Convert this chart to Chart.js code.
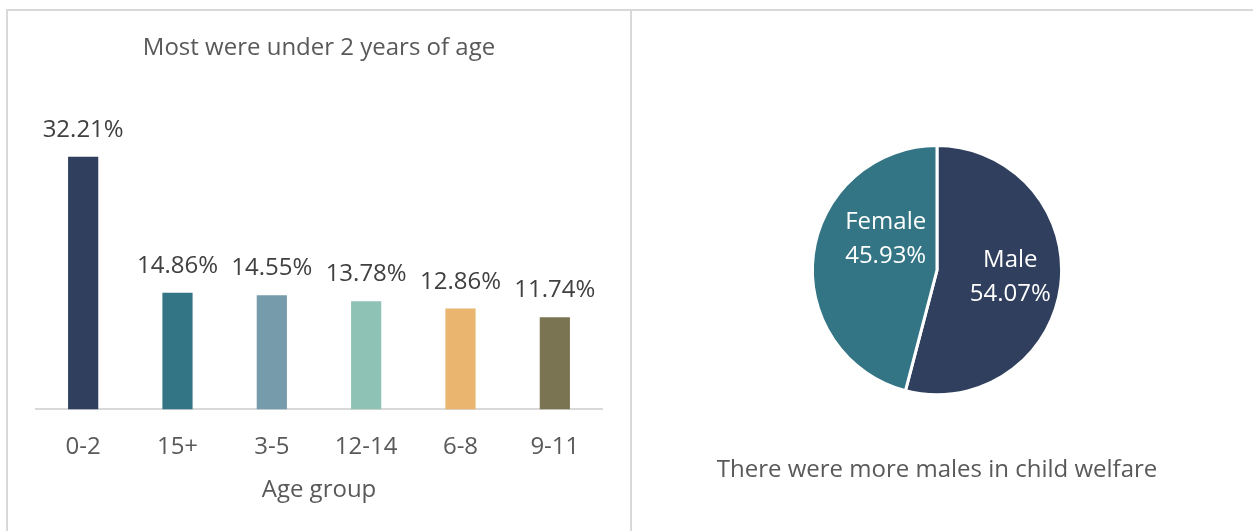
<!DOCTYPE html>
<html>
<head>
<meta charset="utf-8">
<script src="https://cdn.jsdelivr.net/npm/chart.js@4"></script>
<style>
  body { margin: 0; background: #fff; width: 1253px; height: 531px; overflow: hidden; position: relative; }
  canvas { position: absolute; }
  .line { position: absolute; background: #d9d9d9; }
</style>
</head>
<body>
<div class="line" style="left:6px; top:9px; width:1247px; height:2px;"></div>
<div class="line" style="left:6px; top:9px; width:2px; height:522px;"></div>
<div class="line" style="left:630px; top:9px; width:2px; height:522px;"></div>
<canvas id="ageChart" width="630" height="531" style="left:0; top:0;"></canvas>
<canvas id="sexChart" width="621" height="531" style="left:632px; top:0;"></canvas>
<script>
// data
const ageGroups = ["0-2", "15+", "3-5", "12-14", "6-8", "9-11"];
const agePct = [32.21, 14.86, 14.55, 13.78, 12.86, 11.74];
const ageColors = ["#2F3F5D", "#337585", "#769BAA", "#8EC2B5", "#EAB56E", "#7A7452"];

const sexLabels = ["Male", "Female"];
const sexPct = [54.07, 45.93];
const sexColors = ["#2F3F5D", "#337585"];

const FONT = "'Open Sans', Lato, sans-serif";
const GREY = "#595959";
const SIZE = 24;

Chart.defaults.font.family = FONT;
Chart.defaults.color = GREY;

// value labels above each bar
const barLabels = {
  id: "barLabels",
  afterDatasetsDraw(chart) {
    const ctx = chart.ctx;
    const meta = chart.getDatasetMeta(0);
    ctx.save();
    ctx.font = SIZE + "px " + FONT;
    ctx.fillStyle = "#404040";
    ctx.textAlign = "center";
    ctx.textBaseline = "alphabetic";
    meta.data.forEach((bar, i) => {
      ctx.fillText(agePct[i].toFixed(2) + "%", bar.x, bar.y - 20);
    });
    ctx.restore();
  }
};

// labels inside the slices, nudged like the original
const sliceLabels = {
  id: "sliceLabels",
  afterDatasetsDraw(chart) {
    const ctx = chart.ctx;
    const meta = chart.getDatasetMeta(0);
    const tweak = [{ a: -0.06, r: 0.59 }, { a: 0.445, r: 0.49 }];
    ctx.save();
    ctx.font = SIZE + "px " + FONT;
    ctx.fillStyle = "#ffffff";
    ctx.textAlign = "center";
    ctx.textBaseline = "alphabetic";
    meta.data.forEach((arc, i) => {
      const mid = (arc.startAngle + arc.endAngle) / 2 + tweak[i].a;
      const r = arc.outerRadius * tweak[i].r;
      const x = arc.x + Math.cos(mid) * r;
      const y = arc.y + Math.sin(mid) * r;
      ctx.fillText(sexLabels[i], x, y - 8);
      ctx.fillText(sexPct[i].toFixed(2) + "%", x, y + 26);
    });
    ctx.restore();
  }
};

new Chart(document.getElementById("ageChart"), {
  type: "bar",
  data: {
    labels: ageGroups,
    datasets: [{
      data: agePct,
      backgroundColor: ageColors,
      barPercentage: 0.32,
      categoryPercentage: 1
    }]
  },
  options: {
    responsive: false,
    animation: false,
    devicePixelRatio: 1,
    layout: { padding: { left: 36, right: 28, top: 0, bottom: 0 } },
    plugins: {
      legend: { display: false },
      tooltip: { enabled: false },
      title: {
        display: true,
        text: "Most were under 2 years of age",
        color: GREY,
        font: { size: SIZE, weight: "normal" },
        padding: { top: 34, bottom: 72 }
      }
    },
    scales: {
      x: {
        grid: { display: true, drawOnChartArea: false, color: "rgba(0,0,0,0)", tickLength: 23 },
        border: { display: true, color: "#d9d9d9", width: 2 },
        ticks: { color: GREY, font: { size: SIZE }, padding: 0 },
        title: {
          display: true,
          text: "Age group",
          color: GREY,
          font: { size: SIZE },
          padding: { top: 15, bottom: 26 }
        }
      },
      y: { display: false, min: 0, max: 35 }
    }
  },
  plugins: [barLabels]
});

new Chart(document.getElementById("sexChart"), {
  type: "pie",
  data: {
    labels: sexLabels,
    datasets: [{
      data: sexPct,
      backgroundColor: sexColors,
      borderColor: "#ffffff",
      borderWidth: 3
    }]
  },
  options: {
    responsive: false,
    animation: false,
    devicePixelRatio: 1,
    layout: { padding: { top: 144, bottom: 0, left: 0, right: 11 } },
    plugins: {
      legend: { display: false },
      tooltip: { enabled: false },
      title: {
        display: true,
        position: "bottom",
        text: "There were more males in child welfare",
        color: GREY,
        font: { size: SIZE, weight: "normal" },
        padding: { top: 60, bottom: 46 }
      }
    }
  },
  plugins: [sliceLabels]
});
</script>
</body>
</html>
